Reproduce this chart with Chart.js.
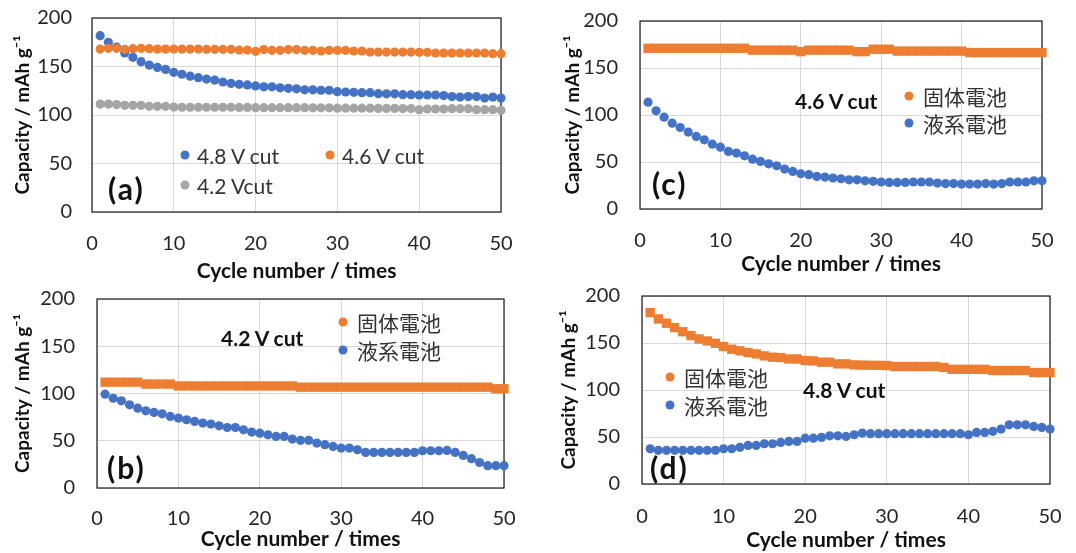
<!DOCTYPE html>
<html>
<head>
<meta charset="utf-8">
<script src="https://cdn.jsdelivr.net/npm/chart.js@4"></script>
<style>
  body { margin: 0; background: #fff; width: 1076px; height: 553px; position: relative; overflow: hidden; font-family: Lato, sans-serif; }
  canvas { position: absolute; }
  .txt { position: absolute; white-space: nowrap; line-height: 1; transform: translateY(-50%); color: #333; }
  .tag { font-weight: bold; font-size: 30px; color: #111; letter-spacing: 2px; }
  .cut { font-weight: bold; font-size: 21px; color: #111; }
  .leg { font-size: 21px; }
  .jp  { font-family: "Noto Sans CJK JP", sans-serif; font-size: 21px; }
  .dot { position: absolute; width: 9px; height: 9px; border-radius: 50%; transform: translate(-50%, -50%); }
</style>
</head>
<body>
<canvas id="pa" width="535" height="290" style="left:0;top:0"></canvas>
<canvas id="pc" width="536" height="280" style="left:540px;top:0"></canvas>
<canvas id="pb" width="535" height="268" style="left:0;top:285px"></canvas>
<canvas id="pd" width="536" height="268" style="left:540px;top:285px"></canvas>

<!-- panel (a) labels -->
<div class="dot" style="left:185px;top:155px;background:#4472C4"></div>
<div class="txt leg" style="left:197px;top:155px">4.8 V cut</div>
<div class="dot" style="left:330px;top:155px;background:#ED7D31"></div>
<div class="txt leg" style="left:342px;top:155px">4.6 V cut</div>
<div class="dot" style="left:185px;top:185px;background:#A5A5A5"></div>
<div class="txt leg" style="left:197px;top:185px">4.2 Vcut</div>
<div class="txt tag" style="left:108px;top:188px">(a)</div>

<!-- panel (c) labels -->
<div class="txt cut" style="left:795px;top:100px">4.6 V cut</div>
<div class="dot" style="left:909px;top:96px;background:#ED7D31"></div>
<div class="txt jp" style="left:923px;top:96px">固体電池</div>
<div class="dot" style="left:909px;top:123px;background:#4472C4"></div>
<div class="txt jp" style="left:923px;top:123px">液系電池</div>
<div class="txt tag" style="left:652px;top:183px">(c)</div>

<!-- panel (b) labels -->
<div class="txt cut" style="left:221px;top:337px">4.2 V cut</div>
<div class="dot" style="left:343px;top:322px;background:#ED7D31"></div>
<div class="txt jp" style="left:357px;top:322px">固体電池</div>
<div class="dot" style="left:343px;top:350px;background:#4472C4"></div>
<div class="txt jp" style="left:357px;top:350px">液系電池</div>
<div class="txt tag" style="left:107px;top:467px">(b)</div>

<!-- panel (d) labels -->
<div class="dot" style="left:670px;top:377px;background:#ED7D31"></div>
<div class="txt jp" style="left:684px;top:377px">固体電池</div>
<div class="dot" style="left:670px;top:405px;background:#4472C4"></div>
<div class="txt jp" style="left:684px;top:405px">液系電池</div>
<div class="txt cut" style="left:803px;top:389px">4.8 V cut</div>
<div class="txt tag" style="left:650px;top:467px">(d)</div>

<script>
const BLUE = '#4472C4', ORANGE = '#ED7D31', GRAY = '#A5A5A5'

const CYCLES = [1,2,3,4,5,6,7,8,9,10,11,12,13,14,15,16,17,18,19,20,21,22,23,24,25,
  26,27,28,29,30,31,32,33,34,35,36,37,38,39,40,41,42,43,44,45,46,47,48,49,50]
const X_TICKS = [0, 10, 20, 30, 40, 50]
const Y_TICKS = [0, 50, 100, 150, 200]

// (a) three cut-off voltages
const A_48V = [181.8,175,170,164,159.5,155,151.5,149,147,144,142,140,138.5,137,136,134,132.6,131.6,131,130,
  129,129,128,127.5,127,126,126,125.5,125.5,124,123.7,123.4,123,123,122,121.8,121.8,121,121,120.6,
  120.6,120.6,120,119,118.5,119,119,117.5,118.5,117.5]
const A_46V = [168,168.7,168.7,167.7,168.4,168.7,168.4,168,168,168,168,168,168,167.7,167.7,167.7,167.7,167,167,165.6,
  167.4,166.7,166.7,167.4,167.4,166.7,166.7,166,166.7,166.7,166.7,166,166,164.9,164.9,164.9,164.9,164.9,164.9,164.6,
  164.6,163.9,163.9,163.9,163.9,163.9,163.9,163.9,163.2,163.2]
const A_42V = [111.3,111.3,110.7,110,110,110,108.9,108.9,108.9,108.2,108,108,108,108,108,108,108,107.8,107.8,107.6,
  107.6,107.6,107.6,107.6,107.6,107.6,107.4,107.4,107.4,107,107,107,107,107,106.8,106.8,106.8,106.6,106.6,105.5,
  106.2,106.2,106.2,106.5,106.5,106.5,105.5,105.5,105.5,104.8]

// (c) 4.6 V cut
const C_SOLID = [171,171,171,171,171,171,171,171,171,171,171,171,171,169,169,169,169,169,169,167.4,
  169,169,169,169,169,169,167.4,167.4,170,170,170,168,168,168,168,168,168,168,168,168,
  166.4,166.4,166.4,166.4,166.4,166.4,166.4,166.4,166.4,166.4]
const C_LIQUID = [113.6,104.4,97.7,91.3,86.7,81.8,77.2,73.6,69,65.8,61.2,59.5,56.6,53,50.6,48.1,46,42.5,40,37.5,
  36.5,34.7,34,33,32.2,31,31,30,29.4,28.7,28.3,28.3,28.3,28.7,28.7,28.7,27.6,27,27,26.5,
  26.5,26.5,27,26.5,27,28.7,28.7,28.7,30,30]

// (b) 4.2 V cut
const B_SOLID = [112,112,112,112,112,110,110,110,110,108,108,108,108,108,108,108,108,108,108,108,
  108,108,108,108,106.7,106.7,106.7,106.7,106.7,106.7,106.7,106.7,106.7,106.7,106.7,106.7,106.7,106.7,106.7,106.7,
  106.7,106.7,106.7,106.7,106.7,106.7,106.7,106.7,105,105]
const B_LIQUID = [99.3,95,92.3,88,84.5,81.7,80,78.5,75.7,74,72.2,70.4,68.7,67.6,65.8,64,64,61.6,59.2,58,
  56.3,54.6,54.6,51.8,50.4,50.4,47.5,45.8,44,42.3,42.3,40.5,37.7,37.7,37.7,37.7,37.7,37.7,37.7,39.4,
  39.4,39.4,39.8,37.7,34.5,31,27,23.6,23.6,23.6]

// (d) 4.8 V cut
const D_SOLID = [182.3,175.6,171,166.4,162,157.9,154.3,152.2,149.7,146.2,143.4,141.6,139.8,138.4,136.3,134.9,134.5,133,133,131.3,
  131,129.6,129.6,127.8,127.8,126.7,126.5,126.3,126.2,126,125,125,125,125,125,125,124,122,122,122,
  122,122,120.7,120.7,120.7,120.7,120.7,118.6,118.6,118.6]
const D_LIQUID = [37.5,35.8,35.8,35.8,35.8,35.8,35.8,35.8,35.8,37.5,37.5,39,41,41,42.8,42.8,44.2,45.3,45.3,48.8,
  48.8,49.6,51.3,51.3,50.6,52.4,54.2,53.5,53.5,53.5,53.5,53.5,53.5,53.5,53.5,53.5,53.5,53.5,53.5,52.4,
  54.9,54.9,56,58.4,63,63,63,61.2,60.2,58.4]

const pts = vals => vals.map((v, i) => ({ x: CYCLES[i], y: v }))

// thin dark frame round the plot area, under the points
const framePlugin = {
  id: 'frame',
  beforeDatasetsDraw(chart) {
    const { ctx, chartArea: a } = chart
    ctx.save()
    ctx.strokeStyle = '#1a1a1a'
    ctx.lineWidth = 1.2
    ctx.strokeRect(a.left, a.top, a.right - a.left, a.bottom - a.top)
    ctx.restore()
  },
}

function circles(data, color, order) {
  return { data: pts(data), backgroundColor: color, borderWidth: 0, pointStyle: 'circle', pointRadius: 4.6, clip: false, order }
}
function squares(data, color, order) {
  return { data: pts(data), backgroundColor: color, borderWidth: 0, pointStyle: 'rect', pointRadius: 6.6, clip: false, order }
}

const noPad = s => { s.paddingTop = 0; s.paddingBottom = 0; s.paddingLeft = 0; s.paddingRight = 0 }

// box: [plotLeft, plotTop, plotRight, plotBottom] inside the canvas
function panel(id, datasets, box, t) {
  const cv = document.getElementById(id)
  const W = cv.width, H = cv.height
  const [L, T, R, B] = box
  new Chart(cv, {
    type: 'scatter',
    data: { datasets },
    plugins: [framePlugin],
    options: {
      responsive: false,
      animation: false,
      layout: { padding: { left: 0, top: T, right: W - R, bottom: 0 } },
      plugins: { legend: { display: false }, tooltip: { enabled: false } },
      scales: {
        x: {
          type: 'linear', min: 0, max: 50,
          afterBuildTicks: s => { s.ticks = X_TICKS.map(v => ({ value: v })) },
          afterFit: s => { s.height = H - B; noPad(s) },
          grid: { color: '#d9d9d9', drawTicks: false },
          border: { display: false },
          ticks: { color: '#262626', font: { family: 'Lato', size: 20 }, padding: t.xPad },
          title: { display: true, text: 'Cycle number / times', color: '#111',
                   font: { family: 'Lato', size: 21, weight: 'bold' }, padding: { top: 0, bottom: t.xTitle } },
        },
        y: {
          min: 0, max: 200,
          afterBuildTicks: s => { s.ticks = Y_TICKS.map(v => ({ value: v })) },
          afterFit: s => { s.width = L; noPad(s) },
          grid: { color: '#d9d9d9', drawTicks: false },
          border: { display: false },
          ticks: { color: '#262626', font: { family: 'Lato', size: 20 }, padding: t.yPad },
          title: { display: true, text: 'Capacity / mAh g⁻¹', color: '#111',
                   font: { family: 'Lato', size: 19, weight: 'bold' }, padding: { top: t.yTitle, bottom: 0 } },
        },
      },
    },
  })
}

panel('pa', [circles(A_48V, BLUE, 3), circles(A_46V, ORANGE, 2), circles(A_42V, GRAY, 1)],
  [92, 18, 501, 212], { xPad: 20, xTitle: 6, yPad: 20, yTitle: 11 })
panel('pc', [squares(C_SOLID, ORANGE, 2), circles(C_LIQUID, BLUE, 1)],
  [100, 21, 502, 209], { xPad: 20, xTitle: 3, yPad: 22, yTitle: 21 })
panel('pb', [squares(B_SOLID, ORANGE, 2), circles(B_LIQUID, BLUE, 1)],
  [97, 14, 504, 203], { xPad: 19, xTitle: 1, yPad: 22, yTitle: 11 })
panel('pd', [squares(D_SOLID, ORANGE, 2), circles(D_LIQUID, BLUE, 1)],
  [102, 11, 510, 199], { xPad: 21, xTitle: 0, yPad: 22, yTitle: 17 })
</script>
</body>
</html>
